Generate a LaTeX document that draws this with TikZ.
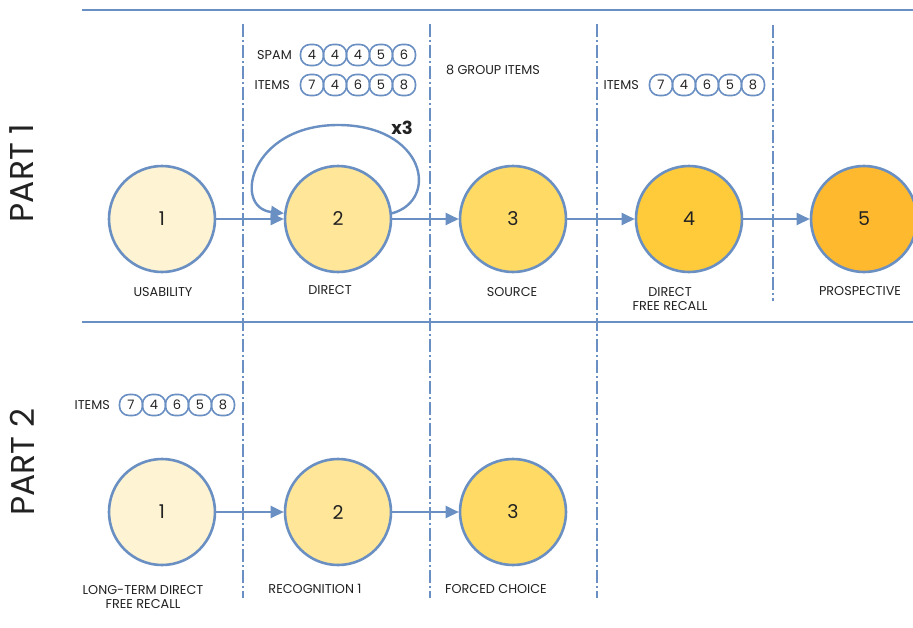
\documentclass[tikz,border=0pt]{standalone}
\usepackage{fontspec}
\setmainfont{Poppins}
\usetikzlibrary{arrows.meta}
\definecolor{edge}{HTML}{6A8FC2}
\definecolor{ink}{HTML}{222222}
\definecolor{lvA}{HTML}{FEF3D2}
\definecolor{lvB}{HTML}{FFE699}
\definecolor{lvC}{HTML}{FFDB66}
\definecolor{lvD}{HTML}{FFCB3A}
\definecolor{lvE}{HTML}{FFB92E}
\tikzset{
  stage/.style={circle, draw=edge, line width=2.6pt, minimum size=106pt, inner sep=0pt,
    font=\fontsize{19}{19}\selectfont, text=ink},
  lab/.style={font=\fontsize{12.8}{14.5}\selectfont, text=ink, align=center, inner sep=0pt},
  bub/.style={draw=edge, line width=1.6pt, rounded corners=9.5pt, minimum width=23pt,
    minimum height=21pt, inner sep=0pt, font=\fontsize{13}{13}\selectfont, text=ink},
  rule/.style={draw=edge, line width=2.8pt},
  divider/.style={draw=edge, line width=1.9pt, dash pattern=on 13pt off 3pt on 2pt off 3pt},
  flow/.style={draw=edge, line width=2.4pt, -{Triangle[length=13pt,width=12pt]}},
  part/.style={font=\fontsize{33}{33}\selectfont, text=ink, rotate=90}
}
\newcommand{\bubblerow}[7]{%
  \foreach \v [count=\k] in {#3} {
    \node[bub] (#1\k) at ({#4+(\k-1)*23},#5) {\v};
  }
  \node[lab, anchor=east] (#1t) at (#6,#7) {#2};
}
\begin{document}
\begin{tikzpicture}[x=1pt,y=-1pt]
\useasboundingbox (0,0) rectangle (913,627);

% horizontal rules
\coordinate (tl) at (82,10); \coordinate (tr) at (913,10);
\coordinate (ml) at (82,322); \coordinate (mr) at (913,322);
\draw[rule] (tl) -- (tr);
\draw[rule] (ml) -- (mr);

% vertical dividers
\foreach \x/\ya/\yb in {243/24/598, 430/24/598, 597/24/598, 773/25/301} {
  \draw[divider] (\x,\ya) -- (\x,\yb);
}

% part titles
\node[part] (p1) at (22,173) {PART 1};
\node[part] (p2) at (22,462) {PART 2};

% part 1 stages
\node[stage, fill=lvA] (a1) at (162,219) {1};
\node[stage, fill=lvB] (a2) at (338,219) {2};
\node[stage, fill=lvC] (a3) at (513,219) {3};
\node[stage, fill=lvD] (a4) at (689,219) {4};
\node[stage, fill=lvE] (a5) at (864,219) {5};

\draw[flow] (a1) -- (a2);
\draw[flow] (a2) -- (a3);
\draw[flow] (a3) -- (a4);
\draw[flow] (a4) -- (a5);
\draw[flow] (a2.6) .. controls (440,200) and (425,125) .. (338,125)
  .. controls (250,125) and (232,208) .. (a2.174);
\node[font=\bfseries\fontsize{18}{18}\selectfont, text=ink] (rep) at (402,128) {x3};

\node[lab] (l1) at (163,292) {USABILITY};
\node[lab] (l2) at (330,290) {DIRECT};
\node[lab] (l3) at (512,292) {SOURCE};
\node[lab] (l4) at (670,299) {DIRECT\\FREE RECALL};
\node[lab] (l5) at (860,291) {PROSPECTIVE};

% part 2 stages
\node[stage, fill=lvA] (b1) at (162,512) {1};
\node[stage, fill=lvB] (b2) at (338,512) {2};
\node[stage, fill=lvC] (b3) at (513,512) {3};
\draw[flow] (b1) -- (b2);
\draw[flow] (b2) -- (b3);

\node[lab] (m1) at (143,597) {LONG-TERM DIRECT\\FREE RECALL};
\node[lab] (m2) at (315,589) {RECOGNITION 1};
\node[lab] (m3) at (496,589) {FORCED CHOICE};

% item sequences
\bubblerow{sp}{SPAM}{4,4,4,5,6}{312}{55}{292}{55}
\bubblerow{it}{ITEMS}{7,4,6,5,8}{312}{85}{290}{85}
\bubblerow{iu}{ITEMS}{7,4,6,5,8}{661}{85}{639}{85}
\bubblerow{iv}{ITEMS}{7,4,6,5,8}{131}{405}{110}{405}
\node[lab] (grp) at (493,70) {8 GROUP ITEMS};
\end{tikzpicture}
\end{document}
